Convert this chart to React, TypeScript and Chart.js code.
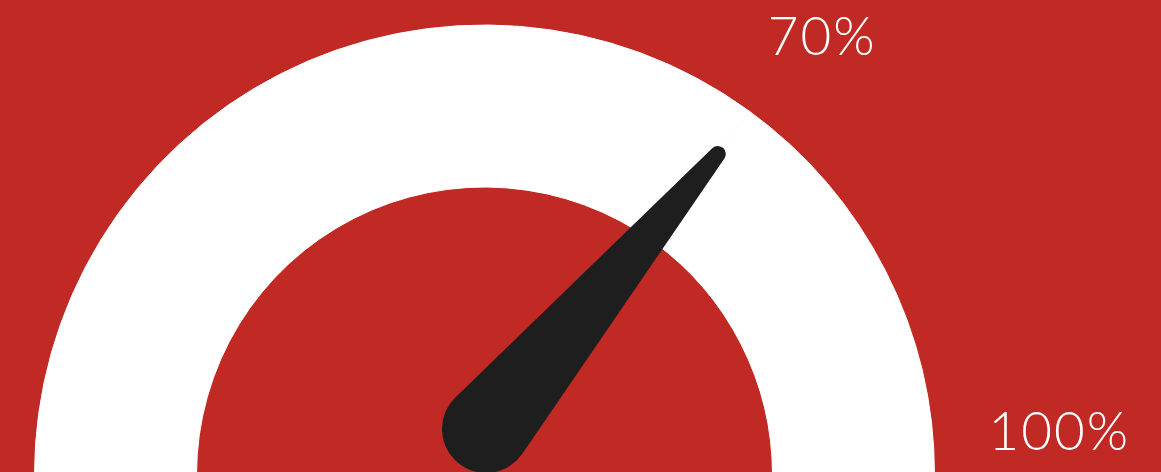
import React, { useEffect, useRef } from "react";
import { Chart, registerables } from "chart.js";

Chart.register(...registerables);

// ---- data ----
const segmentLabels = ["0–70%", "70–100%"];
const segmentValues = [70, 30];
const needleValue = 70;
const tickValues = [70, 100];
const tickLabels = ["70%", "100%"];

const RED = "#C12924";
const WHITE = "#FFFFFF";
const NEEDLE = "#1E1E1E";

const gaugePlugin = {
  id: "gaugeExtras",
  beforeDraw(chart: any) {
    const { ctx, width, height } = chart;
    ctx.save();
    ctx.fillStyle = RED;
    ctx.fillRect(0, 0, width, height);
    ctx.restore();
  },
  afterDraw(chart: any) {
    const meta = chart.getDatasetMeta(0);
    const arc = meta.data[0];
    if (!arc) return;
    const cx = arc.x;
    const cy = arc.y;
    const R = arc.outerRadius;
    const ctx = chart.ctx;
    const total = segmentValues.reduce((a, b) => a + b, 0);
    const ang = (v: number) => Math.PI * (1 - v / total);

    // needle
    const th = ang(needleValue);
    const tipR = R * 0.882;
    const tx = cx + tipR * Math.cos(th);
    const ty = cy - tipR * Math.sin(th);
    const px = cx + 1.5;
    const py = cy - 46;
    const rb = 44;
    const rt = 8;
    const dx = tx - px;
    const dy = ty - py;
    const D = Math.hypot(dx, dy);
    const phi = Math.atan2(dy, dx);
    const a = Math.asin((rb - rt) / D);
    const s = Math.PI / 2 - a;
    ctx.save();
    ctx.fillStyle = NEEDLE;
    ctx.beginPath();
    ctx.arc(px, py, rb, phi + s, phi - s + 2 * Math.PI, false);
    ctx.lineTo(tx + rt * Math.cos(phi - s), ty + rt * Math.sin(phi - s));
    ctx.arc(tx, ty, rt, phi - s, phi + s, false);
    ctx.closePath();
    ctx.fill();
    ctx.restore();

    // tick labels
    const nudges = [
      [-16, -8],
      [-5, -25],
    ];
    ctx.save();
    ctx.fillStyle = WHITE;
    ctx.font = "300 53px Lato, 'Open Sans', sans-serif";
    try {
      (ctx as any).letterSpacing = "2px";
    } catch (e) {}
    ctx.textAlign = "left";
    ctx.textBaseline = "alphabetic";
    const lr = R + 59;
    tickValues.forEach((v, i) => {
      const t = ang(v);
      const x = cx + lr * Math.cos(t) + nudges[i][0];
      const y = cy - lr * Math.sin(t) + nudges[i][1];
      ctx.fillText(tickLabels[i], x, y);
    });
    ctx.restore();
  },
};

export default function App() {
  const ref = useRef<HTMLCanvasElement | null>(null);
  useEffect(() => {
    document.body.style.margin = "0";
    document.body.style.background = RED;
    const canvas = ref.current;
    if (!canvas) return;
    const chart = new Chart(canvas, {
      type: "doughnut",
      data: {
        labels: segmentLabels,
        datasets: [
          {
            data: segmentValues,
            backgroundColor: [WHITE, WHITE],
            borderColor: [WHITE, WHITE],
            borderWidth: 1,
            hoverOffset: 0,
          },
        ],
      },
      options: {
        responsive: false,
        animation: false,
        rotation: -90,
        circumference: 180,
        cutout: "64%",
        radius: 450,
        layout: { padding: { left: 0, right: 192, top: 0, bottom: 0 } },
        plugins: {
          legend: { display: false },
          tooltip: { enabled: false },
        },
        events: [],
      },
      plugins: [gaugePlugin],
    });
    return () => chart.destroy();
  }, []);
  return (
    <div
      style={{
        position: "fixed",
        left: 0,
        top: 0,
        width: "100vw",
        height: "100vh",
        overflow: "hidden",
        background: RED,
      }}
    >
      <canvas ref={ref} width={1161} height={500} style={{ display: "block" }} />
    </div>
  );
}
